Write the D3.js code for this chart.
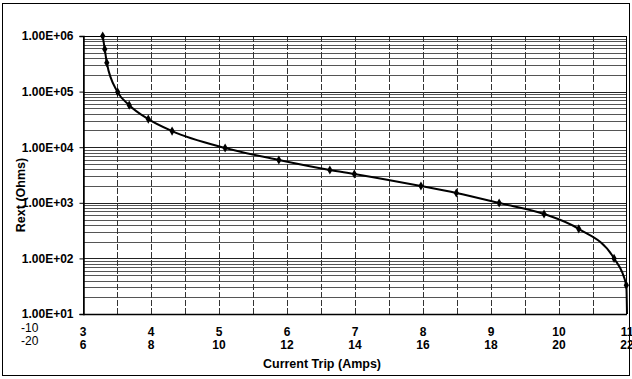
<!DOCTYPE html>
<html>
<head>
<meta charset="utf-8">
<script src="https://cdn.jsdelivr.net/npm/d3@7"></script>
<style>
  body { margin: 0; background: #fff; }
  text { font-family: "Liberation Sans", Arial, sans-serif; }
</style>
</head>
<body>
<div id="chart"></div>
<script>
// data
var currentTrip = [3.29, 3.32, 3.35, 3.51, 3.68, 3.96, 4.31, 5.09, 5.88, 6.63, 6.99, 7.97, 8.49, 9.12, 9.78, 10.29, 10.81, 10.99, 11.0];
var rext = [1000000, 580000, 330000, 98000, 57000, 32000, 19500, 9700, 5900, 3900, 3300, 2000, 1500, 990, 630, 340, 100, 33, 10];
var xTicks = [3, 4, 5, 6, 7, 8, 9, 10, 11];
var xTicks2 = [6, 8, 10, 12, 14, 16, 18, 20, 22];
var yTicks = [1e1, 1e2, 1e3, 1e4, 1e5, 1e6];

var width = 632, height = 379
  , margin = {top: 36, right: 5, bottom: 65, left: 83}
  ;

var svg = d3.select("#chart").append("svg")
    .attr("width", width)
    .attr("height", height);

// outer frame
svg.append("rect")
    .attr("x", 2.5).attr("y", 3.5)
    .attr("width", 627).attr("height", 372)
    .style("fill", "none")
    .style("stroke", "#000")
    .style("stroke-width", 1);

var xScale = d3.scaleLinear()
    .domain([3, 11])
    .range([margin.left, width - margin.right]);

var yScale = d3.scaleLog()
    .domain([10, 1e6])
    .range([height - margin.bottom, margin.top]);

var g = svg.append("g");

// horizontal minor grid (2..9 in each decade)
var minor = [];
yTicks.slice(0, -1).forEach(function(d) {
    for (var k = 2; k <= 9; k++) minor.push(d * k);
});

g.selectAll(".hminor").data(minor).enter().append("line")
    .attr("class", "hminor")
    .attr("x1", xScale(3)).attr("x2", xScale(11))
    .attr("y1", function(d) { return Math.round(yScale(d)) + 0.5; })
    .attr("y2", function(d) { return Math.round(yScale(d)) + 0.5; })
    .style("stroke", "#555")
    .style("stroke-width", 1);

g.selectAll(".hmajor").data(yTicks).enter().append("line")
    .attr("class", "hmajor")
    .attr("x1", xScale(3)).attr("x2", xScale(11))
    .attr("y1", function(d) { return Math.round(yScale(d)) + 0.5; })
    .attr("y2", function(d) { return Math.round(yScale(d)) + 0.5; })
    .style("stroke", "#222")
    .style("stroke-width", 1);

// vertical grid every half amp
g.selectAll(".vgrid").data(d3.range(3.5, 11, 0.5)).enter().append("line")
    .attr("class", "vgrid")
    .attr("x1", function(d) { return Math.round(xScale(d)) + 0.5; })
    .attr("x2", function(d) { return Math.round(xScale(d)) + 0.5; })
    .attr("y1", yScale(1e6)).attr("y2", yScale(10))
    .style("stroke", "#333")
    .style("stroke-width", 1)
    .style("stroke-dasharray", "6,2");

// plot border
g.append("rect")
    .attr("x", xScale(3) + 0.5).attr("y", Math.round(yScale(1e6)) + 0.5)
    .attr("width", xScale(11) - xScale(3) - 1)
    .attr("height", Math.round(yScale(10)) - Math.round(yScale(1e6)))
    .style("fill", "none")
    .style("stroke", "#000")
    .style("stroke-width", 1);

// y axis
var yAxis = d3.axisLeft(yScale)
    .tickValues(yTicks)
    .tickSize(4)
    .tickFormat(function(d) { return "1.00E+0" + Math.round(Math.log10(d)); });

svg.append("g")
    .attr("transform", "translate(" + (xScale(3) + 0.5) + ",0)")
    .call(yAxis)
    .call(function(s) {
        s.select(".domain").style("stroke", "#000").style("stroke-width", 1.5);
        s.selectAll("text")
            .attr("x", -10)
            .style("font-family", "'Liberation Sans', Arial, sans-serif")
            .style("font-size", "12px")
            .style("font-weight", "bold")
            .style("fill", "#000");
    });

// bottom axis line
svg.append("line")
    .attr("x1", xScale(3)).attr("x2", xScale(11))
    .attr("y1", yScale(10) + 0.5).attr("y2", yScale(10) + 0.5)
    .style("stroke", "#000").style("stroke-width", 1.5);

// x labels two rows
svg.selectAll(".xl1").data(xTicks).enter().append("text")
    .attr("class", "xl1")
    .attr("x", function(d) { return xScale(d); })
    .attr("y", 336)
    .attr("text-anchor", "middle")
    .style("font-size", "12px").style("font-weight", "bold")
    .text(function(d) { return d; });

svg.selectAll(".xl2").data(xTicks2).enter().append("text")
    .attr("class", "xl2")
    .attr("x", function(d, i) { return xScale(xTicks[i]); })
    .attr("y", 349)
    .attr("text-anchor", "middle")
    .style("font-size", "12px").style("font-weight", "bold")
    .text(function(d) { return d; });

svg.append("text").attr("x", 21).attr("y", 332)
    .style("font-size", "12px").text("-10");
svg.append("text").attr("x", 21).attr("y", 345)
    .style("font-size", "12px").text("-20");

// axis titles
svg.append("text")
    .attr("x", 322).attr("y", 368)
    .attr("text-anchor", "middle")
    .style("font-size", "12.5px").style("font-weight", "bold")
    .text("Current Trip (Amps)");

svg.append("text")
    .attr("transform", "translate(25,195) rotate(-90)")
    .attr("text-anchor", "middle")
    .style("font-size", "12.5px").style("font-weight", "bold")
    .text("Rext (Ohms)");

// curve
var pts = currentTrip.map(function(d, i) { return [d, rext[i]]; });

var line = d3.line()
    .x(function(d) { return xScale(d[0]); })
    .y(function(d) { return yScale(d[1]); })
    .curve(d3.curveMonotoneX);

svg.append("path")
    .datum(pts)
    .attr("d", line)
    .style("fill", "none")
    .style("stroke", "#000")
    .style("stroke-width", 2);

svg.selectAll(".pt").data(pts.slice(0, -1)).enter().append("path")
    .attr("class", "pt")
    .attr("d", d3.symbol().type(d3.symbolDiamond).size(24))
    .attr("transform", function(d) { return "translate(" + xScale(d[0]) + "," + yScale(d[1]) + ")"; })
    .style("fill", "#000");
</script>
</body>
</html>
